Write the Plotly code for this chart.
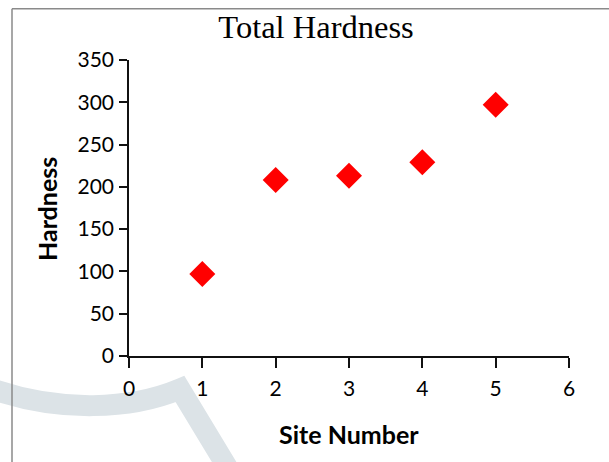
import plotly.graph_objects as go

# Total hardness measured at each sampling site
site_number = [1, 2, 3, 4, 5]
hardness = [97, 208, 213, 229, 297]

x_ticks = [0, 1, 2, 3, 4, 5, 6]
y_ticks = [0, 50, 100, 150, 200, 250, 300, 350]

W, H = 609, 462
ML, MR, MT, MB = 129, 40, 60, 106

def px(x):
    return (x - ML) / (W - ML - MR)

def py(y):
    return (H - MB - y) / (H - MT - MB)

fig = go.Figure()
fig.add_trace(go.Scatter(
    x=site_number, y=hardness, mode="markers",
    marker=dict(symbol="diamond", size=20, color="#ff0000", line=dict(width=0)),
    showlegend=False,
))

# Light watermark band behind the chart
band = "M {:.4f},{:.4f} C {:.4f},{:.4f} {:.4f},{:.4f} {:.4f},{:.4f} L {:.4f},{:.4f}".format(
    px(-5), py(390), px(60), py(412), px(130), py(410), px(180), py(389), px(232), py(475))
shapes = [
    dict(type="path", path=band, xref="paper", yref="paper", layer="below",
         line=dict(color="#dce3e7", width=21), fillcolor="rgba(0,0,0,0)"),
    # Frame: top and left edges
    dict(type="line", xref="paper", yref="paper", x0=px(12), x1=px(620), y0=py(8.7), y1=py(8.7),
         line=dict(color="#8a8a8a", width=1.5)),
    dict(type="line", xref="paper", yref="paper", x0=px(12), x1=px(12), y0=py(8.7), y1=py(470),
         line=dict(color="#8a8a8a", width=1.5)),
]

tick_font = dict(family="Lato", size=21, color="#000000")
title_font = dict(family="Lato", size=25, color="#000000", weight="bold")

fig.update_layout(
    width=W, height=H,
    margin=dict(l=ML, r=MR, t=MT, b=MB, pad=0),
    paper_bgcolor="white", plot_bgcolor="rgba(0,0,0,0)",
    title=dict(text="Total Hardness", x=316 / W, xanchor="center",
               y=1 - 27 / H, yanchor="middle", yref="container",
               font=dict(family="Liberation Serif", size=32.5, color="#000000")),
    xaxis=dict(range=[0, 6], tickvals=x_ticks, showgrid=False, zeroline=False,
               showline=True, linecolor="#111111", linewidth=1.5,
               ticks="outside", ticklen=10, tickwidth=1.5, tickcolor="#111111",
               tickfont=tick_font, ticklabelstandoff=3),
    yaxis=dict(range=[0, 350], tickvals=y_ticks, showgrid=False, zeroline=False,
               showline=True, linecolor="#111111", linewidth=1.5,
               ticks="outside", ticklen=8, tickwidth=1.5, tickcolor="#111111",
               tickfont=tick_font, ticklabelstandoff=1),
    shapes=shapes,
    annotations=[
        dict(text="Site Number", xref="paper", yref="paper", x=px(348.5), y=py(434),
             xanchor="center", yanchor="middle", showarrow=False, font=title_font),
        dict(text="Hardness", xref="paper", yref="paper", x=px(47), y=py(209),
             xanchor="center", yanchor="middle", showarrow=False, textangle=-90,
             font=title_font),
    ],
)

fig.write_html("out.html")
